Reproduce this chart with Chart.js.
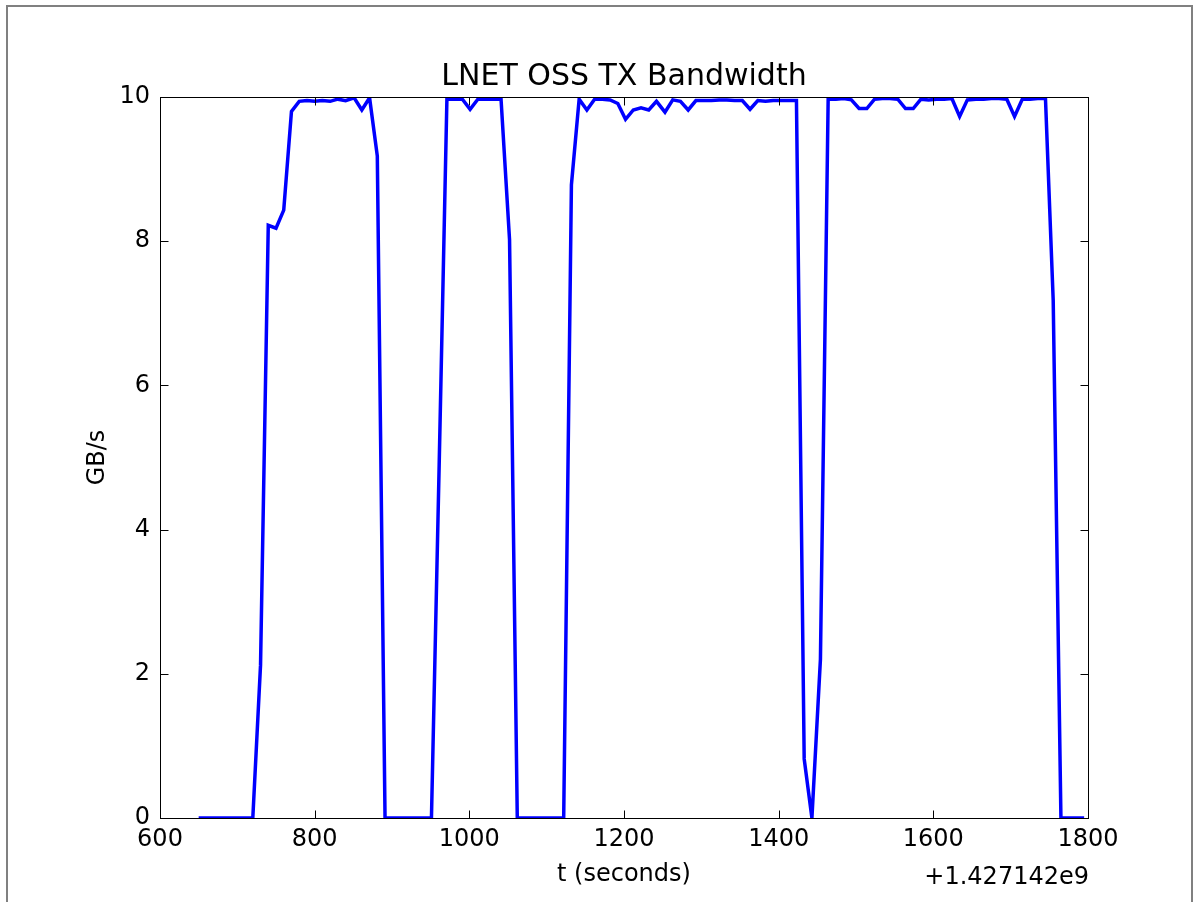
<!DOCTYPE html>
<html>
<head>
<meta charset="utf-8">
<title>LNET OSS TX Bandwidth</title>
<script src="https://cdn.jsdelivr.net/npm/chart.js@4.4.0/dist/chart.umd.min.js"></script>
<style>
  html, body { margin: 0; padding: 0; background: #fff; }
  #wrap { position: relative; width: 1195px; height: 902px; overflow: hidden; }
  #frame { position: absolute; left: 6px; top: 5px; width: 1187px; height: 900px;
           border: 2px solid #808080; border-bottom: none; box-sizing: border-box; }
  canvas { position: absolute; left: 0; top: 0; }
</style>
</head>
<body>
<div id="wrap">
  <div id="frame"></div>
  <canvas id="bw" width="1195" height="902"></canvas>
</div>
<script>
// time in seconds, relative to 1.427142e9
const times = [
  650, 660, 670, 680, 690, 700, 710, 720, 730, 740,
  750, 760, 770, 780, 790, 800, 810, 820, 830, 840,
  851, 861, 871, 881, 891, 901, 911, 921, 931, 941,
  951, 961, 971, 981, 991, 1001, 1011, 1021, 1031, 1041,
  1052, 1062, 1072, 1082, 1092, 1102, 1112, 1122, 1132, 1142,
  1152, 1162, 1172, 1182, 1192, 1202, 1212, 1222, 1232, 1242,
  1253, 1263, 1273, 1283, 1293, 1303, 1313, 1323, 1333, 1343,
  1353, 1363, 1373, 1383, 1393, 1403, 1413, 1423, 1433, 1443,
  1454, 1464, 1474, 1484, 1494, 1504, 1514, 1524, 1534, 1544,
  1554, 1564, 1574, 1584, 1594, 1604, 1614, 1624, 1634, 1644,
  1655, 1665, 1675, 1685, 1695, 1705, 1715, 1725, 1735, 1745,
  1755, 1765, 1775, 1785, 1795
];
// GB/s
const bandwidth = [
  0, 0, 0, 0, 0, 0, 0, 0, 2.12, 8.22,
  8.18, 8.43, 9.80, 9.94, 9.95, 9.94, 9.95, 9.94, 9.97, 9.95,
  9.99, 9.82, 9.99, 9.18, 0, 0, 0, 0, 0, 0,
  0, 4.9, 9.97, 9.97, 9.97, 9.83, 9.97, 9.97, 9.97, 9.97,
  8.02, 0, 0, 0, 0, 0, 0, 0, 8.78, 9.97,
  9.82, 9.97, 9.97, 9.96, 9.91, 9.69, 9.82, 9.85, 9.82, 9.94,
  9.79, 9.96, 9.94, 9.82, 9.95, 9.95, 9.95, 9.96, 9.96, 9.95,
  9.95, 9.83, 9.95, 9.94, 9.95, 9.95, 9.95, 9.95, 0.82, 0,
  2.2, 9.97, 9.97, 9.98, 9.96, 9.84, 9.84, 9.97, 9.98, 9.98,
  9.97, 9.84, 9.84, 9.97, 9.96, 9.97, 9.97, 9.98, 9.73, 9.96,
  9.97, 9.97, 9.98, 9.98, 9.97, 9.73, 9.97, 9.97, 9.98, 9.98,
  7.18, 0, 0, 0, 0
];
const xTicks = [600, 800, 1000, 1200, 1400, 1600, 1800];
const yTicks = [0, 2, 4, 6, 8, 10];
const xOffsetLabel = "+1.427142e9";

Chart.defaults.font.family = "'DejaVu Sans', sans-serif";
Chart.defaults.color = "#000";

// matplotlib style box with inward ticks + offset text
const axesFrame = {
  id: "axesFrame",
  afterDatasetsDraw(chart) {
    const { ctx, chartArea: a, scales } = chart;
    const L = Math.round(a.left) + 0.5, R = Math.round(a.right) + 0.5;
    const T = Math.round(a.top) + 0.5, B = Math.round(a.bottom) + 0.5;
    ctx.save();
    ctx.strokeStyle = "#000";
    ctx.lineWidth = 1;
    ctx.beginPath();
    scales.x.ticks.forEach((t) => {
      const px = Math.round(scales.x.getPixelForValue(t.value)) + 0.5;
      ctx.moveTo(px, B); ctx.lineTo(px, B - 8);
      ctx.moveTo(px, T); ctx.lineTo(px, T + 8);
    });
    scales.y.ticks.forEach((t) => {
      const py = Math.round(scales.y.getPixelForValue(t.value)) + 0.5;
      ctx.moveTo(L, py); ctx.lineTo(L + 8, py);
      ctx.moveTo(R, py); ctx.lineTo(R - 8, py);
    });
    ctx.stroke();
    ctx.strokeRect(L, T, R - L, B - T);
    ctx.font = "24px 'DejaVu Sans'";
    ctx.fillStyle = "#000";
    ctx.textAlign = "right";
    ctx.textBaseline = "middle";
    ctx.fillText(xOffsetLabel, a.right + 1, a.bottom + 60);
    ctx.restore();
  },
};

const ctx = document.getElementById("bw").getContext("2d");
const bwChart = new Chart(ctx, {
  type: "line",
  data: {
    datasets: [
      {
        label: "TX",
        data: times.map((t, i) => ({ x: t, y: bandwidth[i] })),
        borderColor: "#0000ff",
        borderWidth: 3.5,
        pointRadius: 0,
        tension: 0,
        fill: false,
      },
    ],
  },
  options: {
    responsive: false,
    animation: false,
    layout: { padding: { left: 80, right: 107, top: 50, bottom: 10 } },
    plugins: {
      legend: { display: false },
      tooltip: { enabled: false },
      title: {
        display: true,
        fullSize: false,
        text: "LNET OSS TX Bandwidth",
        font: { size: 30, weight: "normal" },
        padding: { top: 9, bottom: 2 },
      },
    },
    scales: {
      x: {
        type: "linear",
        min: 600,
        max: 1800,
        afterBuildTicks: (s) => { s.ticks = xTicks.map((v) => ({ value: v })); },
        afterFit: (s) => { s.height = 74; },
        grid: { display: false, drawTicks: false },
        border: { display: false },
        ticks: { font: { size: 24 }, padding: 7, maxRotation: 0, callback: (v) => String(v) },
        title: { display: true, text: "t (seconds)", font: { size: 24 }, padding: { top: 0, bottom: 3 } },
      },
      y: {
        min: 0,
        max: 10,
        afterBuildTicks: (s) => { s.ticks = yTicks.map((v) => ({ value: v })); },
        afterFit: (s) => { s.width = 80; },
        grid: { display: false, drawTicks: false },
        border: { display: false },
        ticks: { font: { size: 24 }, padding: 10, callback: (v) => String(v) },
        title: { display: true, text: "GB/s", font: { size: 24 }, padding: { top: 3, bottom: 0 } },
      },
    },
  },
  plugins: [axesFrame],
});
</script>
</body>
</html>
